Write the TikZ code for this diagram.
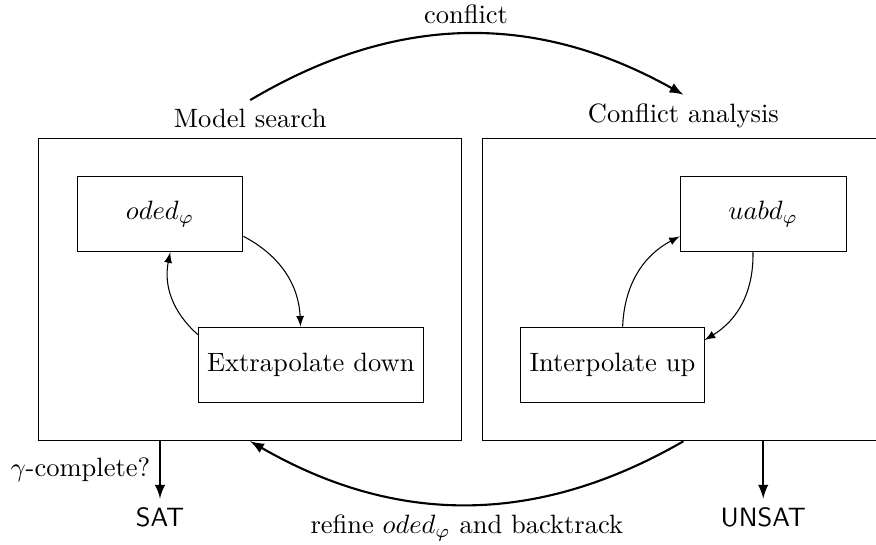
\documentclass[tikz,border=0pt]{standalone}
\usetikzlibrary{fit,positioning}
\begin{document}
\begin{tikzpicture}[
  innerbox/.style={draw, minimum height=1cm, minimum width=2.2cm},
  outerbox/.style={draw, inner sep=0.5cm},
  bigarrow/.style={->, thick},
  >=latex
]
\useasboundingbox (-2.122,-4.39) rectangle (9.496,2.838);
\node[innerbox] (oded) at (0,0) {$oded_\varphi$};
\node[innerbox] (extra) at (2,-2) {Extrapolate down};
\node[innerbox] (uabd) at (8,0) {$uabd_\varphi$};
\node[innerbox] (interp) at (6,-2) {Interpolate up};
\node[outerbox, fit=(oded)(extra), label={[name=mslab]above:Model search}] (ms) {};
\node[outerbox, fit=(interp)(uabd), label={[name=calab]above:Conflict analysis}] (ca) {};

\draw[->] (oded) to[bend left] (extra);
\draw[->] (extra) to[bend left] (oded);
\draw[->] (uabd) to[bend left] (interp);
\draw[->] (interp) to[bend left] (uabd);

\draw[bigarrow] (mslab.north) to[bend left] node[above] {conflict} (calab.north);
\draw[bigarrow] (ca.south) to[bend left] node[below] {refine $oded_\varphi$ and backtrack} (ms.south);

\coordinate (satstart) at (oded |- ms.south);
\coordinate (unsatstart) at (uabd |- ca.south);
\node[below=0.76cm of satstart, anchor=north] (sat) {\textsf{SAT}};
\node[below=0.76cm of unsatstart, anchor=north] (unsat) {\textsf{UNSAT}};
\draw[bigarrow] (satstart) -- node[left] {$\gamma$-complete?} (sat);
\draw[bigarrow] (unsatstart) -- (unsat);
\end{tikzpicture}
\end{document}
